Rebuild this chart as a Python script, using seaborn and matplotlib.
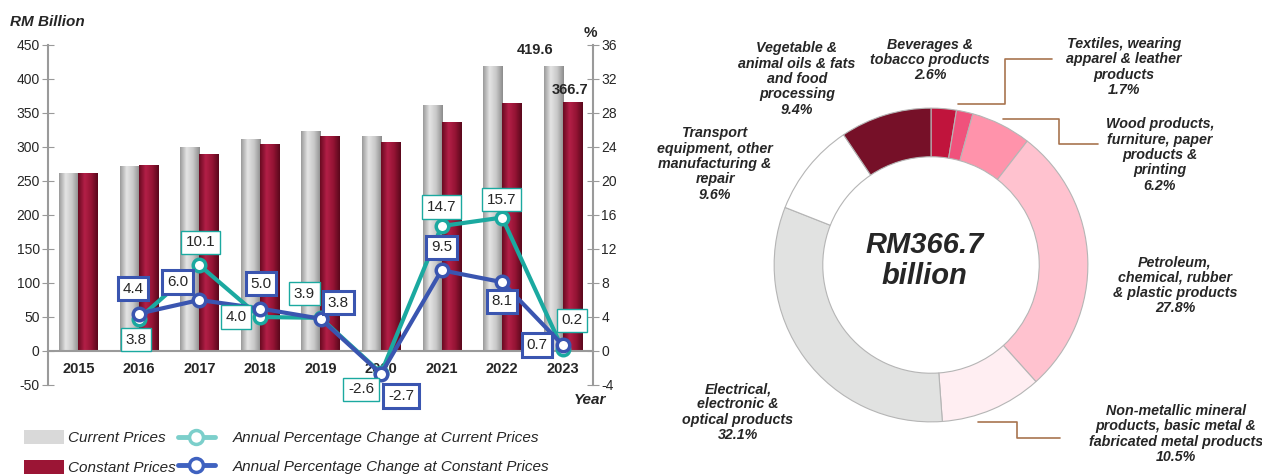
import numpy as np
import pandas as pd
import matplotlib
matplotlib.use("Agg")
import matplotlib.pyplot as plt
from matplotlib.lines import Line2D
from matplotlib.patches import Patch
from matplotlib.colors import LinearSegmentedColormap, to_hex
import seaborn as sns

# ---- data ----
years = ["2015", "2016", "2017", "2018", "2019", "2020", "2021", "2022", "2023"]
current_prices = [262.3, 272.3, 299.8, 311.8, 324.0, 315.6, 362.0, 418.8, 419.6]
constant_prices = [262.2, 273.7, 290.1, 304.6, 316.2, 307.6, 336.9, 364.1, 366.7]
pct_years = ["2016", "2017", "2018", "2019", "2020", "2021", "2022", "2023"]
pct_current = [3.8, 10.1, 4.0, 3.9, -2.6, 14.7, 15.7, 0.2]
pct_constant = [4.4, 6.0, 5.0, 3.8, -2.7, 9.5, 8.1, 0.7]

sectors = [
    "Beverages &\ntobacco products",
    "Textiles, wearing\napparel & leather\nproducts",
    "Wood products,\nfurniture, paper\nproducts &\nprinting",
    "Petroleum,\nchemical, rubber\n& plastic products",
    "Non-metallic mineral\nproducts, basic metal &\nfabricated metal products",
    "Electrical,\nelectronic &\noptical products",
    "Transport\nequipment, other\nmanufacturing &\nrepair",
    "Vegetable &\nanimal oils & fats\nand food\nprocessing",
]
shares = [2.6, 1.7, 6.2, 27.8, 10.5, 32.1, 9.6, 9.4]

# ---- style ----
sns.set_style("white")
plt.rcParams["font.family"] = ["Liberation Sans", "DejaVu Sans"]
plt.rcParams["axes.unicode_minus"] = False

W, H = 1262, 476
fig = plt.figure(figsize=(W / 100, H / 100), dpi=100)


def px(x, y):
    return x / W, 1 - y / H


GREY = "#9a9a9a"
TEAL = "#1BA9A0"
BLUE = "#3A55B0"
BAR_GREY = "#C6C6C6"
BAR_RED = "#9B1535"

# ---- left: bars + lines ----
ax = fig.add_axes([48 / W, 1 - 385 / H, (593 - 48) / W, 340 / H])
df = pd.DataFrame({
    "year": years * 2,
    "value": current_prices + constant_prices,
    "series": ["Current Prices"] * 9 + ["Constant Prices"] * 9,
})
sns.barplot(data=df, x="year", y="value", hue="series",
            palette=[BAR_GREY, BAR_RED], width=0.63, saturation=1,
            legend=False, ax=ax)

# cylinder-like shading on the bars
cm_grey = LinearSegmentedColormap.from_list("g", ["#9a9a9a", "#e4e4e4", "#c8c8c8", "#8c8c8c"])
cm_red = LinearSegmentedColormap.from_list("r", ["#6a0a21", "#b31f47", "#951434", "#5a081c"])
grad = np.linspace(0, 1, 64).reshape(1, -1)
for p in list(ax.patches):
    x0, y0 = p.get_xy()
    w, h = p.get_width(), p.get_height()
    cmap = cm_grey if to_hex(p.get_facecolor()).lower() == BAR_GREY.lower() else cm_red
    im = ax.imshow(grad, extent=[x0, x0 + w, y0, y0 + h], aspect="auto",
                   cmap=cmap, zorder=p.get_zorder(), interpolation="bilinear")
    im.set_clip_path(p)

ax.set_xlim(-0.5, 8.5)
ax.set_ylim(-50, 450)
ax.set_yticks(range(-50, 451, 50))
ax.set_xlabel("")
ax.set_ylabel("")
ax.spines["top"].set_visible(False)
ax.spines["right"].set_visible(False)
ax.spines["bottom"].set_position(("data", 0))
for s in ["left", "bottom"]:
    ax.spines[s].set_color(GREY)
    ax.spines[s].set_linewidth(1.5)
ax.tick_params(axis="y", direction="inout", length=8, color=GREY, labelsize=10, pad=2)
ax.tick_params(axis="x", which="major", length=0, labelsize=10.5, pad=8)
ax.set_xticks(range(len(years)))
ax.set_xticklabels(years, fontweight="bold")
ax.set_xticks(np.arange(0.5, 8.5, 1), minor=True)
ax.tick_params(axis="x", which="minor", direction="out", length=6, color=GREY, width=1.2)

# value labels on 2023 bars
ax.annotate(f"{current_prices[-1]:.1f}", (8 - 0.1575, current_prices[-1]),
            xytext=(-18, 12), textcoords="offset pixels", ha="center",
            fontsize=10.5, fontweight="bold")
ax.annotate(f"{constant_prices[-1]:.1f}", (8 + 0.1575, constant_prices[-1]),
            xytext=(-2, 8), textcoords="offset pixels", ha="center",
            fontsize=10.5, fontweight="bold")

ax2 = ax.twinx()
xpos = [years.index(y) for y in pct_years]
sns.lineplot(x=xpos, y=pct_current, ax=ax2, color=TEAL, linewidth=3,
             marker="o", markersize=9, markerfacecolor="white",
             markeredgecolor=TEAL, markeredgewidth=2.5)
sns.lineplot(x=xpos, y=pct_constant, ax=ax2, color=BLUE, linewidth=3,
             marker="o", markersize=9, markerfacecolor="white",
             markeredgecolor=BLUE, markeredgewidth=2.5)
ax2.set_ylim(-4, 36)
ax2.set_yticks(range(-4, 37, 4))
ax2.set_xlim(-0.5, 8.5)
for s in ["top", "left", "bottom"]:
    ax2.spines[s].set_visible(False)
ax2.spines["right"].set_color(GREY)
ax2.spines["right"].set_linewidth(1.5)
ax2.tick_params(axis="y", direction="inout", length=8, color=GREY, labelsize=10, pad=2)

# label box offsets (pixels)
off_current = [(-3, -21), (1, 23), (-24, 0), (-16, 24), (-20, -16), (0, 19), (-1, 18), (9, 29)]
off_constant = [(-6, 25), (-22, 18), (1, 25), (18, 16), (20, -22), (0, 23), (0, -19), (-26, 0)]
for x, v, o in zip(xpos, pct_current, off_current):
    ax2.annotate(f"{v:.1f}", (x, v), xytext=o, textcoords="offset pixels",
                 ha="center", va="center", fontsize=11, zorder=5,
                 bbox=dict(boxstyle="square,pad=0.3", fc="white", ec=TEAL, lw=1))
for x, v, o in zip(xpos, pct_constant, off_constant):
    ax2.annotate(f"{v:.1f}", (x, v), xytext=o, textcoords="offset pixels",
                 ha="center", va="center", fontsize=11, zorder=5,
                 bbox=dict(boxstyle="square,pad=0.3", fc="white", ec=BLUE, lw=2.2))

fig.text(*px(10, 22), "RM Billion", fontsize=11, fontweight="bold", style="italic", va="center")
fig.text(*px(590, 33), "%", fontsize=11, fontweight="bold", ha="center", va="center")
fig.text(*px(590, 400), "Year", fontsize=11, fontweight="bold", style="italic", ha="center", va="center")

# legends
h1 = [Patch(fc="#D9D9D9", ec="none"), Patch(fc=BAR_RED, ec="none")]
fig.legend(h1, ["Current Prices", "Constant Prices"], loc="upper left",
           bbox_to_anchor=px(24, 430), frameon=False, borderpad=0, borderaxespad=0,
           handlelength=2.6, handleheight=1.05, handletextpad=0.3, labelspacing=0.95,
           prop=dict(size=11, style="italic"))
h2 = [Line2D([], [], color=c, lw=3.5, marker="o", ms=10, mfc="white", mec=c, mew=2.5)
      for c in ["#7CCFCB", "#3F62C0"]]
fig.legend(h2, ["Annual Percentage Change at Current Prices",
                "Annual Percentage Change at Constant Prices"], loc="upper left",
           bbox_to_anchor=px(178, 431), frameon=False, borderpad=0, borderaxespad=0,
           handlelength=2.4, handletextpad=1.2, labelspacing=0.95,
           prop=dict(size=11, style="italic"))

# ---- right: donut ----
R = 160
cx, cy = 931, 265
axp = fig.add_axes([(cx - R) / W, (H - cy - R) / H, 2 * R / W, 2 * R / H])
donut_colors = ["#C0143C", "#F0527C", "#FF93AB", "#FFC2CF", "#FFEEF2",
                "#E1E2E1", "#FFFFFF", "#761028"]
axp.pie(shares, colors=donut_colors, startangle=90, counterclock=False, radius=1,
        wedgeprops=dict(width=0.31, edgecolor="#b5b5b5", linewidth=0.8))
axp.set_xlim(-1.02, 1.02)
axp.set_ylim(-1.02, 1.02)
axp.set_aspect("equal")
axp.axis("off")
axp.text(-0.04, 0.03, "RM366.7\nbillion", ha="center", va="center", fontsize=21,
         fontweight="bold", style="italic", linespacing=1.15)

label_pos = [(930, 60), (1124, 67), (1160, 155), (1175, 285),
             (1176, 434), (738, 412), (715, 164), (797, 79)]
for name, share, (x, y) in zip(sectors, shares, label_pos):
    fig.text(*px(x, y), f"{name}\n{share:.1f}%", ha="center", va="center",
             fontsize=10.3, fontweight="bold", style="italic", linespacing=1.12)

LC = "#A8744F"
for xs, ys in [([958, 1005, 1005, 1052], [104, 104, 59, 59]),
               ([1003, 1059, 1059, 1098], [119, 119, 144, 144]),
               ([978, 1017, 1017, 1060], [422, 422, 438, 438])]:
    fig.add_artist(Line2D([x / W for x in xs], [1 - y / H for y in ys],
                          color=LC, lw=1.2))

fig.savefig("out.png", dpi=100)
